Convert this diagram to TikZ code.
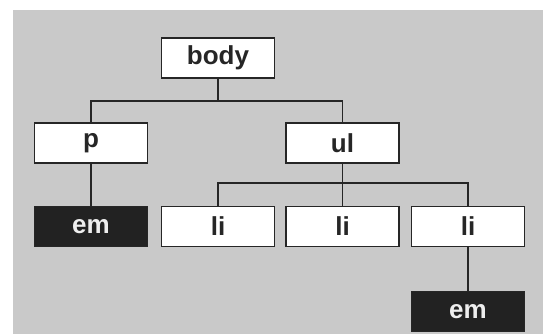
\documentclass[tikz,border=0pt]{standalone}
\usepackage{fontspec}
\setmainfont{Liberation Sans}
\definecolor{bggray}{HTML}{C9C9C9}
\definecolor{darkbox}{HTML}{222222}
\definecolor{lighttext}{HTML}{EEEEEE}
\begin{document}
\begin{tikzpicture}[x=1pt,y=-1pt,
  tag/.style={draw=black!85, line width=1.6pt, fill=white, minimum width=113pt, minimum height=40pt,
    inner sep=0pt, font=\fontsize{26}{26}\selectfont\bfseries, text=black!85},
  dark/.style={tag, fill=darkbox, text=lighttext},
  conn/.style={draw=black!85, line width=1.5pt}]
\useasboundingbox (0,0) rectangle (543,334);
\fill[bggray] (13,10) rectangle (543,334);
\node[tag] (body) at (218,58) {body};
\node[tag] (p) at (91,143) {p};
\node[tag] (ul) at (342.5,143) {ul};
\node[dark] (em1) at (91,226.5) {em};
\node[tag] (li1) at (218,226.5) {li};
\node[tag] (li2) at (342.5,226.5) {li};
\node[tag] (li3) at (468,226.5) {li};
\node[dark] (em2) at (468,311.5) {em};
\draw[conn] (body.south) -- ++(0,22) -| (p.north);
\draw[conn] (body.south) -- ++(0,22) -| (ul.north);
\draw[conn] (ul.south) -- ++(0,19) -| (li1.north);
\draw[conn] (ul.south) -- (li2.north);
\draw[conn] (ul.south) -- ++(0,19) -| (li3.north);
\draw[conn] (p.south) -- (em1.north);
\draw[conn] (li3.south) -- (em2.north);
\end{tikzpicture}
\end{document}
